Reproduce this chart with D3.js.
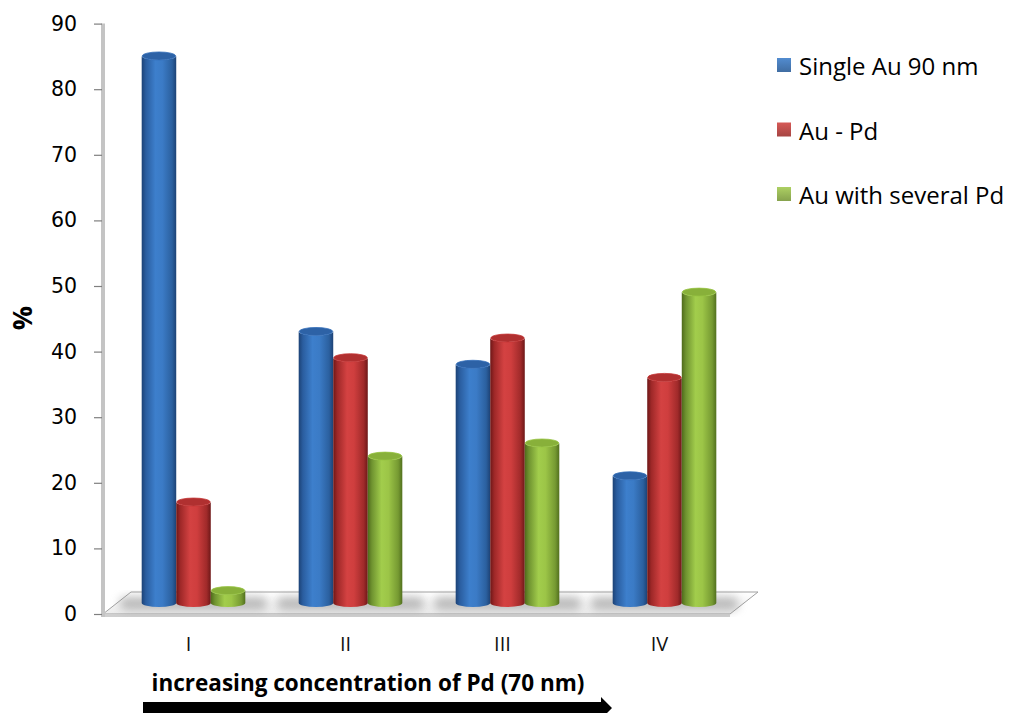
<!DOCTYPE html>
<html>
<head>
<meta charset="utf-8">
<script src="https://cdn.jsdelivr.net/npm/d3@7"></script>
<style>
  body { margin: 0; background: #fff; }
  svg { display: block; }
</style>
</head>
<body>
<div id="chart"></div>
<script>
// chart data
const CATEGORIES = ['I', 'II', 'III', 'IV'];
const SERIES = ['Single Au 90 nm', 'Au - Pd', 'Au with several Pd'];
const SINGLE_AU = [84, 42, 37, 20];
const AU_PD = [16, 38, 41, 35];
const AU_SEVERAL_PD = [2.5, 23, 25, 48];
const Y_TICKS = [0, 10, 20, 30, 40, 50, 60, 70, 80, 90];

const FRAME_WIDTH = 1013;
const FRAME_HEIGHT = 713;

const FRAME = d3.select('#chart')
    .append('svg')
        .attr('width', FRAME_WIDTH)
        .attr('height', FRAME_HEIGHT);

// scales
const Y_SCALE = d3.scaleLinear()
    .domain([0, 90])
    .range([614, 23.6]);

const X_SCALE = d3.scaleBand()
    .domain(CATEGORIES)
    .range([110, 738])
    .paddingInner(0.34)
    .paddingOuter(0.17);

const X_INNER = d3.scaleBand()
    .domain(SERIES)
    .range([0, X_SCALE.bandwidth()]);

const AXIS_X = 103;
const FLOOR_RIGHT = 730;
const DEPTH = {dx: 28, dy: -22};   // floor depth
const BAR_SHIFT = {dx: 5, dy: -7}; // bars sit in the middle of the floor
const CAP_RY = 4;

// colours for gradients
const PALETTE = [
    {name: 'blue',  stops: ['#1c4276', '#2a5d9f', '#3d7fcc', '#3b7bc6', '#2b609f', '#1d4275'], cap: '#2d62a6', key: '#4a7ebb'},
    {name: 'red',   stops: ['#6e1717', '#9e2828', '#d44242', '#cf3e3e', '#a02a2a', '#6e1818'], cap: '#b03030', key: '#c0504d'},
    {name: 'green', stops: ['#4f6a1b', '#6f9330', '#a2cd4c', '#9cc547', '#769a32', '#52701e'], cap: '#88b03a', key: '#9bbb59'}
];

const defs = FRAME.append('defs');

PALETTE.forEach((p) => {
    const g = defs.append('linearGradient')
        .attr('id', 'grad-' + p.name)
        .attr('x1', '0%').attr('x2', '100%')
        .attr('y1', '0%').attr('y2', '0%');
    [0, 0.12, 0.4, 0.6, 0.88, 1].forEach((o, i) => {
        g.append('stop').attr('offset', o).attr('stop-color', p.stops[i]);
    });
    const k = defs.append('linearGradient')
        .attr('id', 'key-' + p.name)
        .attr('x1', '0%').attr('x2', '0%')
        .attr('y1', '0%').attr('y2', '100%');
    k.append('stop').attr('offset', 0).attr('stop-color', d3.color(p.key).brighter(0.3));
    k.append('stop').attr('offset', 1).attr('stop-color', d3.color(p.key).darker(0.4));
});

const floorGrad = defs.append('linearGradient')
    .attr('id', 'floor-grad')
    .attr('x1', '0%').attr('x2', '0%')
    .attr('y1', '0%').attr('y2', '100%');
floorGrad.append('stop').attr('offset', 0).attr('stop-color', '#ffffff');
floorGrad.append('stop').attr('offset', 1).attr('stop-color', '#ececec');

defs.append('filter')
    .attr('id', 'blur')
    .attr('x', '-50%').attr('y', '-50%')
    .attr('width', '200%').attr('height', '200%')
    .append('feGaussianBlur')
        .attr('stdDeviation', 5);

// floor
const y0 = Y_SCALE(0);
FRAME.append('path')
    .attr('d', 'M' + AXIS_X + ',' + y0 +
               'L' + FLOOR_RIGHT + ',' + y0 +
               'L' + (FLOOR_RIGHT + DEPTH.dx) + ',' + (y0 + DEPTH.dy) +
               'L' + (AXIS_X + DEPTH.dx) + ',' + (y0 + DEPTH.dy) + 'Z')
    .attr('fill', 'url(#floor-grad)')
    .attr('stroke', '#a0a0a0')
    .attr('stroke-width', 1);

// front edge of the floor
FRAME.append('rect')
    .attr('x', AXIS_X)
    .attr('y', y0)
    .attr('width', FLOOR_RIGHT - AXIS_X)
    .attr('height', 3)
    .attr('fill', '#cfcfcf');

// y axis wall line
FRAME.append('line')
    .attr('x1', AXIS_X).attr('x2', AXIS_X)
    .attr('y1', Y_SCALE(90)).attr('y2', y0 + 3)
    .attr('stroke', '#c4c4c4')
    .attr('stroke-width', 4);

// y axis ticks and labels
const yAxis = FRAME.append('g')
    .attr('transform', 'translate(' + (AXIS_X - 1) + ',0)')
    .call(d3.axisLeft(Y_SCALE).tickValues(Y_TICKS).tickSize(8).tickPadding(17));
yAxis.select('.domain').remove();
yAxis.selectAll('.tick line').attr('stroke', '#7f7f7f').attr('stroke-width', 1.2);
yAxis.selectAll('.tick text')
    .attr('font-family', 'DejaVu Sans, Verdana, sans-serif')
    .attr('font-size', '20.5px')
    .attr('fill', '#000');

// category labels
FRAME.append('g')
    .selectAll('text')
    .data(CATEGORIES)
    .enter()
    .append('text')
        .attr('x', d => X_SCALE(d) + X_SCALE.bandwidth() / 2)
        .attr('y', 651)
        .attr('text-anchor', 'middle')
        .attr('font-family', 'Open Sans, sans-serif')
        .attr('font-size', '20px')
        .attr('fill', '#111')
        .text(d => d);

// bar data
const VALUES = [SINGLE_AU, AU_PD, AU_SEVERAL_PD];
const bars = [];
CATEGORIES.forEach((c, i) => {
    SERIES.forEach((s, j) => {
        bars.push({cat: c, series: s, idx: j, value: VALUES[j][i]});
    });
});

// soft shadows on the floor
FRAME.append('g')
    .selectAll('rect')
    .data(CATEGORIES)
    .enter()
    .append('rect')
        .attr('x', d => X_SCALE(d) + BAR_SHIFT.dx - 22)
        .attr('y', y0 + BAR_SHIFT.dy - 10)
        .attr('width', X_SCALE.bandwidth() + 44)
        .attr('height', 13)
        .attr('rx', 6)
        .attr('fill', '#8a8a8a')
        .attr('opacity', 0.55)
        .attr('filter', 'url(#blur)');

// cylinders
function cylinderPath(x, top, w, bottom) {
    const rx = w / 2;
    return 'M' + x + ',' + top +
        'L' + x + ',' + bottom +
        'A' + rx + ',' + CAP_RY + ' 0 0 0 ' + (x + w) + ',' + bottom +
        'L' + (x + w) + ',' + top +
        'A' + rx + ',' + CAP_RY + ' 0 0 1 ' + x + ',' + top + 'Z';
}

const barG = FRAME.append('g');
const bw = X_INNER.bandwidth();

barG.selectAll('path')
    .data(bars)
    .enter()
    .append('path')
        .attr('d', d => {
            const x = X_SCALE(d.cat) + X_INNER(d.series) + BAR_SHIFT.dx;
            return cylinderPath(x, Y_SCALE(d.value) + BAR_SHIFT.dy, bw, y0 + BAR_SHIFT.dy - CAP_RY);
        })
        .attr('fill', d => 'url(#grad-' + PALETTE[d.idx].name + ')');

barG.selectAll('ellipse')
    .data(bars)
    .enter()
    .append('ellipse')
        .attr('cx', d => X_SCALE(d.cat) + X_INNER(d.series) + BAR_SHIFT.dx + bw / 2)
        .attr('cy', d => Y_SCALE(d.value) + BAR_SHIFT.dy)
        .attr('rx', bw / 2 - 0.5)
        .attr('ry', CAP_RY)
        .attr('fill', d => PALETTE[d.idx].cap)
        .attr('stroke', d => d3.color(PALETTE[d.idx].cap).brighter(0.3))
        .attr('stroke-width', 0.8);

// y axis title
FRAME.append('text')
    .attr('transform', 'translate(32,318) rotate(-90)')
    .attr('text-anchor', 'middle')
    .attr('font-family', 'Open Sans, sans-serif')
    .attr('font-weight', 700)
    .attr('font-size', '27px')
    .attr('fill', '#000')
    .text('%');

// x axis title and arrow
FRAME.append('text')
    .attr('x', 368)
    .attr('y', 691)
    .attr('text-anchor', 'middle')
    .attr('font-family', 'Open Sans, sans-serif')
    .attr('font-weight', 700)
    .attr('font-size', '22.5px')
    .attr('fill', '#000')
    .text('increasing concentration of Pd (70 nm)');

FRAME.append('path')
    .attr('d', 'M143,702 L601,702 L601,697 L612,708 L601,719 L601,714 L143,714 Z')
    .attr('fill', '#000');

// legend
const legend = FRAME.append('g')
    .attr('transform', 'translate(777,58)');

const items = legend.selectAll('g')
    .data(SERIES)
    .enter()
    .append('g')
        .attr('transform', (d, i) => 'translate(0,' + (i * 64.5) + ')');

items.append('rect')
    .attr('width', 14)
    .attr('height', 14)
    .attr('fill', (d, i) => 'url(#key-' + PALETTE[i].name + ')');

items.append('text')
    .attr('x', 22)
    .attr('y', 17)
    .attr('font-family', 'Open Sans, sans-serif')
    .attr('font-size', '24px')
    .attr('fill', '#000')
    .text(d => d);
</script>
</body>
</html>
